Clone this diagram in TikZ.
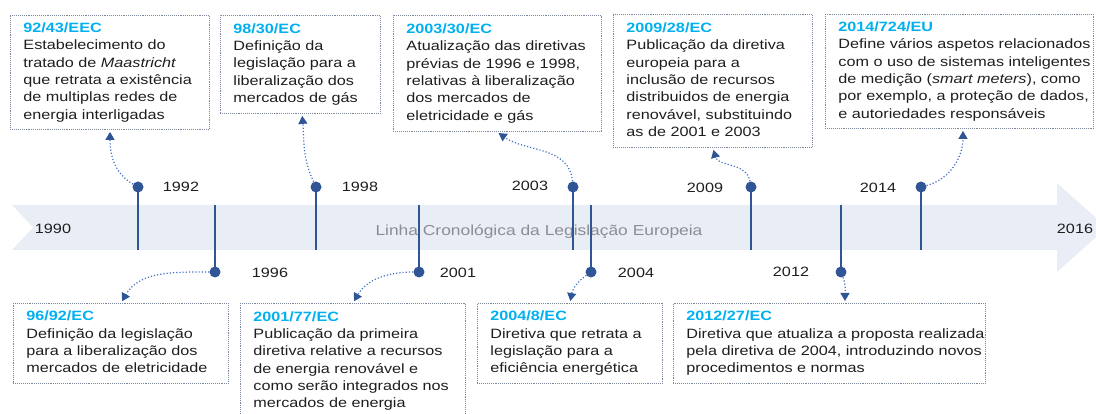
\documentclass[tikz,border=0pt]{standalone}
\usepackage{fontspec}
\setmainfont{Liberation Sans}[FakeStretch=1.2]
\usetikzlibrary{arrows.meta}
\definecolor{titleblue}{RGB}{0,176,240}
\definecolor{markblue}{RGB}{47,85,151}
\definecolor{linkblue}{RGB}{68,114,196}
\definecolor{bandfill}{RGB}{233,238,246}
\definecolor{boxgray}{RGB}{125,135,155}
\definecolor{bandtext}{RGB}{140,140,150}
\definecolor{bodytext}{RGB}{30,30,30}

\begin{document}
\begin{tikzpicture}[x=1pt,y=-1pt,
  txt/.style={font=\fontsize{13.5}{17.3}\selectfont, text=bodytext},
  note/.style={txt, draw=boxgray, densely dotted, line width=0.9pt, anchor=north west, inner xsep=13pt, inner ysep=0pt, align=left},
  yeardot/.style={circle, fill=markblue, inner sep=0pt, minimum size=11pt},
  stem/.style={markblue, line width=1.5pt},
  link/.style={linkblue, dotted, line width=1.2pt, shorten >=2pt, -{Triangle[width=9pt,length=8pt,color=markblue]}},
  yr/.style={txt, inner sep=0pt}]
  \useasboundingbox (0,0) rectangle (1096,414);
  \fill[bandfill] (12,205) -- (1057,205) -- (1057,183) -- (1107,227.5) -- (1057,272) -- (1057,250) -- (12,250) -- (33,227.5) -- cycle;
  \node[txt, text=bandtext, font=\fontsize{14.5}{17}\selectfont] (band) at (539,232) {Linha Cronológica da Legislação Europeia};

  \draw[stem] (138,187) -- ++(0,63);
  \draw[stem] (215,205) -- ++(0,67);
  \draw[stem] (316,187) -- ++(0,63);
  \draw[stem] (419,205) -- ++(0,67);
  \draw[stem] (573,187) -- ++(0,63);
  \draw[stem] (591,205) -- ++(0,67);
  \draw[stem] (751,187) -- ++(0,63);
  \draw[stem] (841,205) -- ++(0,67);
  \draw[stem] (921,187) -- ++(0,63);
  \node[yeardot] (p1992) at (138,187) {};
  \node[yeardot] (p1996) at (215,272) {};
  \node[yeardot] (p1998) at (316,187) {};
  \node[yeardot] (p2001) at (419,272) {};
  \node[yeardot] (p2003) at (573,187) {};
  \node[yeardot] (p2004) at (591,272) {};
  \node[yeardot] (p2009) at (751,187) {};
  \node[yeardot] (p2012) at (841,272) {};
  \node[yeardot] (p2014) at (921,187) {};

  \node[yr] (y1990) at (53,229) {1990};
  \node[yr] (y1992) at (181,187) {1992};
  \node[yr] (y1996) at (270,273) {1996};
  \node[yr] (y1998) at (360,187) {1998};
  \node[yr] (y2001) at (458,273) {2001};
  \node[yr] (y2003) at (530,186) {2003};
  \node[yr] (y2004) at (636,273) {2004};
  \node[yr] (y2009) at (705,188) {2009};
  \node[yr] (y2012) at (791,272) {2012};
  \node[yr] (y2014) at (878,188) {2014};
  \node[yr] (y2016) at (1075,229) {2016};

  \node[note, text width=173pt, minimum height=114pt] (b92) at (10,15) {\begin{tabular}{@{}l@{}}\textcolor{titleblue}{\textbf{92/43/EEC}}\\ Estabelecimento do\\ tratado de \textit{Maastricht}\\ que retrata a existência\\ de multiplas redes de\\ energia interligadas\end{tabular}};
  \node[note, text width=134pt, minimum height=98pt] (b98) at (220,15) {\begin{tabular}{@{}l@{}}\textcolor{titleblue}{\textbf{98/30/EC}}\\ Definição da\\ legislação para a\\ liberalização dos\\ mercados de gás\end{tabular}};
  \node[note, text width=182pt, minimum height=116pt] (b03) at (393,15) {\begin{tabular}{@{}l@{}}\textcolor{titleblue}{\textbf{2003/30/EC}}\\ Atualização das diretivas\\ prévias de 1996 e 1998,\\ relativas à liberalização\\ dos mercados de\\ eletricidade e gás\end{tabular}};
  \node[note, text width=173pt, minimum height=133pt] (b09) at (613,14) {\begin{tabular}{@{}l@{}}\textcolor{titleblue}{\textbf{2009/28/EC}}\\ Publicação da diretiva\\ europeia para a\\ inclusão de recursos\\ distribuidos de energia\\ renovável, substituindo\\ as de 2001 e 2003\end{tabular}};
  \node[note, text width=242pt, minimum height=114pt] (b14) at (825,14) {\begin{tabular}{@{}l@{}}\textcolor{titleblue}{\textbf{2014/724/EU}}\\ Define vários aspetos relacionados\\ com o uso de sistemas inteligentes\\ de medição (\textit{smart meters}), como\\ por exemplo, a proteção de dados,\\ e autoriedades responsáveis\end{tabular}};

  \node[note, text width=189pt, minimum height=80pt] (b96) at (13,303) {\begin{tabular}{@{}l@{}}\textcolor{titleblue}{\textbf{96/92/EC}}\\ Definição da legislação\\ para a liberalização dos\\ mercados de eletricidade\end{tabular}};
  \node[note, text width=199pt, minimum height=115pt] (b01) at (240,303) {\begin{tabular}{@{}l@{}}\textcolor{titleblue}{\textbf{2001/77/EC}}\\ Publicação da primeira\\ diretiva relative a recursos\\ de energia renovável e\\ como serão integrados nos\\ mercados de energia\end{tabular}};
  \node[note, text width=159pt, minimum height=80pt] (b04) at (477,303) {\begin{tabular}{@{}l@{}}\textcolor{titleblue}{\textbf{2004/8/EC}}\\ Diretiva que retrata a\\ legislação para a\\ eficiência energética\end{tabular}};
  \node[note, text width=286pt, minimum height=80pt] (b12) at (673,303) {\begin{tabular}{@{}l@{}}\textcolor{titleblue}{\textbf{2012/27/EC}}\\ Diretiva que atualiza a proposta realizada\\ pela diretiva de 2004, introduzindo novos\\ procedimentos e normas\end{tabular}};

  \draw[link] (p1992) to[out=150,in=-90] ([xshift=100pt]b92.south west);
  \draw[link] (p1998) to[out=115,in=-85] ([xshift=82pt]b98.south west);
  \draw[link] (p2003) to[out=95,in=-35] ([xshift=104pt]b03.south west);
  \draw[link] (p2009) to[out=100,in=-75] ([xshift=100pt]b09.south west);
  \draw[link] (p2014) to[out=15,in=-90] ([xshift=138pt]b14.south west);
  \draw[link] (p1996) to[out=180,in=60] ([xshift=108pt]b96.north west);
  \draw[link] (p2001) to[out=180,in=60] ([xshift=113pt]b01.north west);
  \draw[link] (p2004) to[out=215,in=80] ([xshift=93pt]b04.north west);
  \draw[link] (p2012) to[out=-70,in=90] ([xshift=172pt]b12.north west);
\end{tikzpicture}
\end{document}
